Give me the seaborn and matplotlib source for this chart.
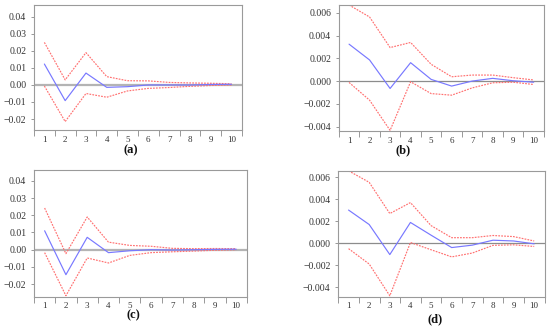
import matplotlib
matplotlib.use("Agg")
import matplotlib.pyplot as plt
import numpy as np
import pandas as pd
import seaborn as sns

periods = list(range(1, 11))

# (a)
a_resp = [0.0123, -0.0092, 0.0070, -0.0014, -0.0010, 0.0000, 0.0000, 0.0000, 0.0003, 0.0004]
a_upper = [0.0250, 0.0030, 0.0190, 0.0049, 0.0025, 0.0024, 0.0015, 0.0012, 0.0010, 0.0007]
a_lower = [-0.0006, -0.0215, -0.0050, -0.0072, -0.0035, -0.0020, -0.0015, -0.0008, -0.0003, 0.0000]

# (b)
b_resp = [0.00325, 0.00186, -0.00065, 0.00162, 0.00015, -0.00044, 0.0000, 0.00024, 0.00003, -0.0001]
b_upper = [0.0067, 0.00564, 0.00295, 0.0034, 0.00148, 0.00038, 0.00053, 0.00053, 0.0003, 0.0001]
b_lower = [-0.00012, -0.00168, -0.00434, -0.00006, -0.0011, -0.00124, -0.0006, -0.00015, -0.0001, -0.0003]

# (c)
c_resp = [0.0110, -0.0145, 0.0072, -0.0017, -0.0006, 0.0000, -0.0002, 0.0000, 0.0002, 0.0003]
c_upper = [0.0242, -0.0023, 0.0190, 0.0044, 0.0025, 0.0020, 0.0008, 0.0006, 0.0007, 0.0006]
c_lower = [-0.0017, -0.0267, -0.0048, -0.0077, -0.0033, -0.0017, -0.0012, -0.0008, -0.0003, 0.0000]

# (d)
d_resp = [0.00302, 0.0017, -0.00104, 0.00189, 0.00073, -0.0004, -0.00018, 0.00027, 0.0002, -0.00006]
d_upper = [0.0066, 0.00555, 0.0027, 0.0037, 0.0016, 0.0005, 0.0005, 0.0007, 0.0006, 0.0002]
d_lower = [-0.0005, -0.0019, -0.0048, 0.00006, -0.0006, -0.00125, -0.0009, -0.0002, -0.00015, -0.0003]

panels = [
    ("a", a_resp, a_upper, a_lower, [0.0618, 0.607, 0.378, 0.378], (-0.0265, 0.047), (0.5, 10.5),
     [-0.02, -0.01, 0.0, 0.01, 0.02, 0.03, 0.04], "{:.2f}", ("#b4b4b4", 1.6), (0.238, 0.547)),
    ("b", b_resp, b_upper, b_lower, [0.616, 0.604, 0.373, 0.381], (-0.0044, 0.0067), (0.5, 10.33),
     [-0.004, -0.002, 0.0, 0.002, 0.004, 0.006], "{:.3f}", ("#8c8c8c", 0.9), (0.733, 0.547)),
    ("c", c_resp, c_upper, c_lower, [0.0618, 0.103, 0.387, 0.384], (-0.0274, 0.0464), (0.5, 10.5),
     [-0.02, -0.01, 0.0, 0.01, 0.02, 0.03, 0.04], "{:.2f}", ("#b4b4b4", 1.6), (0.242, 0.048)),
    ("d", d_resp, d_upper, d_lower, [0.615, 0.103, 0.375, 0.381], (-0.0049, 0.0066), (0.52, 10.41),
     [-0.004, -0.002, 0.0, 0.002, 0.004, 0.006], "{:.3f}", ("#8c8c8c", 0.9), (0.791, 0.035)),
]

sns.set_theme(style="white")
plt.rcParams["font.family"] = ["Liberation Serif", "DejaVu Serif"]

fig = plt.figure(figsize=(5.5, 3.31), dpi=100)

for name, resp, upper, lower, pos, ylim, xlim, yticks, fmt, zero, lab in panels:
    ax = fig.add_axes(pos)
    df = pd.DataFrame({"period": periods, "resp": resp, "upper": upper, "lower": lower})
    ax.axhline(0, color=zero[0], lw=zero[1], zorder=1)
    sns.lineplot(data=df, x="period", y="upper", ax=ax, color="#ff7070", lw=0.85,
                 linestyle=(0, (1.5, 1)), zorder=2)
    sns.lineplot(data=df, x="period", y="lower", ax=ax, color="#ff7070", lw=0.85,
                 linestyle=(0, (1.5, 1)), zorder=2)
    sns.lineplot(data=df, x="period", y="resp", ax=ax, color="#7878ff", lw=0.85, zorder=3)
    ax.set_xlim(*xlim)
    ax.set_ylim(*ylim)
    ax.set_xlabel("")
    ax.set_ylabel("")
    ax.set_xticks(periods)
    ax.set_xticklabels([str(p) for p in periods])
    ax.set_xticks(np.arange(0.5, 11, 1.0), minor=True)
    ax.tick_params(axis="x", which="major", length=0, pad=4, labelsize=6.5, colors="#333333")
    ax.tick_params(axis="x", which="minor", length=4, width=0.6, color="#888888", bottom=True)
    ax.set_yticks(yticks)
    ax.set_yticklabels([fmt.format(v).replace("-", "\u2212") for v in yticks])
    ax.tick_params(axis="y", length=2, width=0.6, color="#888888", left=True, pad=3.5,
                   labelsize=7, labelcolor="#333333")
    for sp in ax.spines.values():
        sp.set_color("#9a9a9a")
        sp.set_linewidth(0.8)
    fig.text(lab[0], lab[1], "(" + name + ")", ha="center", va="center", fontsize=9,
             fontweight="bold", color="#111111")

fig.savefig("out.png", dpi=100)
